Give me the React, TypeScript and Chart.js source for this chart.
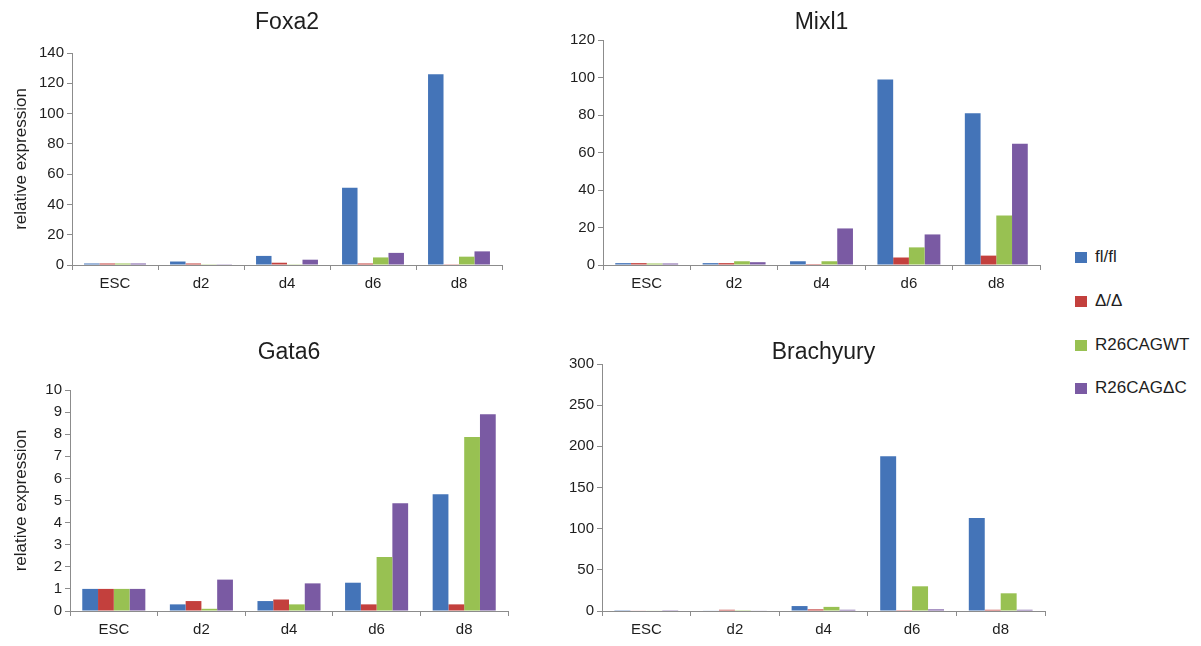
import React, { useEffect, useRef } from 'react';
import { Chart, registerables } from 'chart.js';

Chart.register(...registerables);

const categories = ['ESC', 'd2', 'd4', 'd6', 'd8'];
const seriesNames = ['fl/fl', '\u0394/\u0394', 'R26CAGWT', 'R26CAG\u0394C'];
const seriesColors = ['#4474B8', '#C3403D', '#98C152', '#7A5AA3'];

const foxa2FlFl = [1, 2.3, 6, 51, 126];
const foxa2Delta = [1, 1, 1.5, 1, 0.5];
const foxa2WT = [1, 0.5, 0.5, 5, 5.5];
const foxa2DC = [1, 0.5, 3.5, 8, 9];
const foxa2Ticks = { max: 140, step: 20 };

const mixl1FlFl = [1, 1, 2, 99, 81];
const mixl1Delta = [1, 1, 0.5, 4, 5];
const mixl1WT = [0.8, 2, 2, 9.4, 26.4];
const mixl1DC = [0.8, 1.5, 19.5, 16.3, 64.7];
const mixl1Ticks = { max: 120, step: 20 };

const gata6FlFl = [1, 0.3, 0.45, 1.28, 5.28];
const gata6Delta = [1, 0.45, 0.52, 0.3, 0.3];
const gata6WT = [1, 0.1, 0.3, 2.44, 7.87];
const gata6DC = [1, 1.42, 1.25, 4.87, 8.9];
const gata6Ticks = { max: 10, step: 1 };

const brachFlFl = [1, 0.5, 6, 188, 113];
const brachDelta = [0.5, 1.5, 2, 1, 1.5];
const brachWT = [0.5, 1, 5, 30, 21.5];
const brachDC = [1, 0.5, 1.5, 2, 1.5];
const brachTicks = { max: 300, step: 50 };

const FONT = "'Liberation Sans', Arial, sans-serif";
const TEXT = '#1e1e1e';
const AXIS = '#8c8c8c';

type Spec = {
  title: string;
  series: number[][];
  ticks: { max: number; step: number };
  yTitle: boolean;
  left: number;
  top: number;
  width: number;
  height: number;
  yWidth: number;
  padRight: number;
  titleTop: number;
  titleBottom: number;
  xHeight: number;
};

const specs: Spec[] = [
  { title: 'Foxa2', series: [foxa2FlFl, foxa2Delta, foxa2WT, foxa2DC], ticks: foxa2Ticks, yTitle: true,
    left: 0, top: 0, width: 520, height: 300, yWidth: 72, padRight: 18, titleTop: 11, titleBottom: 19, xHeight: 35 },
  { title: 'Mixl1', series: [mixl1FlFl, mixl1Delta, mixl1WT, mixl1DC], ticks: mixl1Ticks, yTitle: false,
    left: 520, top: 0, width: 540, height: 300, yWidth: 83, padRight: 20, titleTop: 11, titleBottom: 6, xHeight: 35 },
  { title: 'Gata6', series: [gata6FlFl, gata6Delta, gata6WT, gata6DC], ticks: gata6Ticks, yTitle: true,
    left: 0, top: 320, width: 520, height: 326, yWidth: 70, padRight: 12, titleTop: 21, titleBottom: 26, xHeight: 35 },
  { title: 'Brachyury', series: [brachFlFl, brachDelta, brachWT, brachDC], ticks: brachTicks, yTitle: false,
    left: 520, top: 320, width: 540, height: 326, yWidth: 82, padRight: 15, titleTop: 21, titleBottom: 0, xHeight: 35 },
];

function buildChart(canvas: HTMLCanvasElement, s: Spec): Chart {
  return new Chart(canvas, {
    type: 'bar',
    data: {
      labels: categories,
      datasets: s.series.map((vals, i) => ({
        label: seriesNames[i],
        data: vals,
        backgroundColor: seriesColors[i],
        borderWidth: 0,
        categoryPercentage: 0.72,
        barPercentage: 1,
      })),
    },
    options: {
      responsive: false,
      animation: false,
      devicePixelRatio: 1,
      layout: { padding: { left: 0, right: s.padRight, top: 0, bottom: 0 } },
      plugins: {
        legend: { display: false },
        tooltip: { enabled: false },
        title: {
          display: true,
          fullSize: false,
          text: s.title,
          color: TEXT,
          font: { family: FONT, size: 23, weight: 'normal', lineHeight: 1 },
          padding: { top: s.titleTop, bottom: s.titleBottom },
        },
      },
      scales: {
        x: {
          grid: { display: true, drawOnChartArea: false, drawTicks: true, tickLength: 5, color: AXIS, offset: true },
          border: { display: true, color: AXIS, width: 1 },
          ticks: { color: TEXT, font: { family: FONT, size: 15 }, padding: 5, maxRotation: 0 },
          afterFit: (scale: any) => { scale.height = s.xHeight; },
        },
        y: {
          min: 0,
          max: s.ticks.max,
          grid: { display: true, drawOnChartArea: false, drawTicks: true, tickLength: 5, color: AXIS },
          border: { display: true, color: AXIS, width: 1 },
          ticks: { stepSize: s.ticks.step, color: TEXT, font: { family: FONT, size: 15 }, padding: 3 },
          title: {
            display: s.yTitle,
            text: 'relative expression',
            color: TEXT,
            font: { family: FONT, size: 17 },
            padding: { top: 11, bottom: 0 },
          },
          afterFit: (scale: any) => { scale.width = s.yWidth; },
        },
      },
    },
  });
}

export default function App() {
  const refs = useRef<(HTMLCanvasElement | null)[]>([]);

  useEffect(() => {
    const charts = specs.map((s, i) => buildChart(refs.current[i] as HTMLCanvasElement, s));
    return () => charts.forEach((c) => c.destroy());
  }, []);

  const legendTops = [257, 301, 345, 388];

  return (
    <div style={{ position: 'absolute', left: 0, top: 0, width: 1201, height: 646, background: '#fff', overflow: 'hidden' }}>
      {specs.map((s, i) => (
        <canvas
          key={s.title}
          ref={(el) => { refs.current[i] = el; }}
          width={s.width}
          height={s.height}
          style={{ position: 'absolute', left: s.left, top: s.top, width: s.width, height: s.height, display: 'block' }}
        />
      ))}
      {seriesNames.map((name, i) => (
        <div
          key={name}
          style={{ position: 'absolute', left: 1075, top: legendTops[i] - 12, height: 24, display: 'flex', alignItems: 'center', fontFamily: FONT, fontSize: 17, color: TEXT, whiteSpace: 'nowrap' }}
        >
          <span style={{ display: 'inline-block', width: 12, height: 11, background: seriesColors[i], marginRight: 8 }} />
          <span>{name}</span>
        </div>
      ))}
    </div>
  );
}
